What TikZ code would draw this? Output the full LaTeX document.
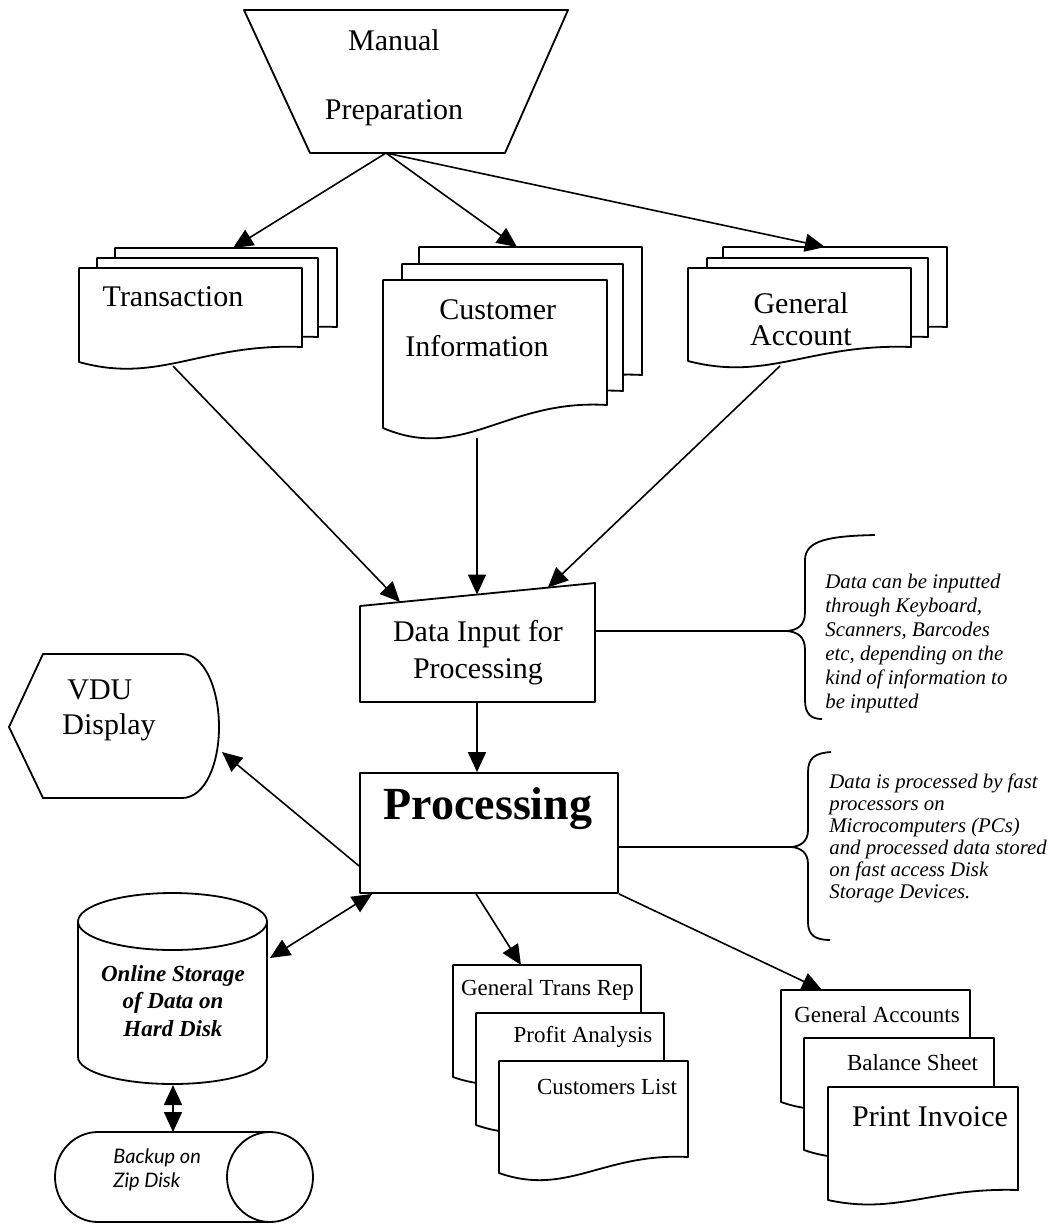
\documentclass[tikz,border=0pt]{standalone}
\usepackage{fontspec}
\setmainfont{Liberation Serif}
\newfontfamily\tapefont{Lato}
\usetikzlibrary{arrows.meta,calc}
\newcommand\docpage[5]{\draw[shp] (#1,#2) -- (#3,#2) -- (#3,{#4-#5}) .. controls ({#3-0.45*(#3-#1)},{#4-1.27*#5}) and ({#1+0.36*(#3-#1)},{#4+1.5*#5}) .. (#1,#4) -- cycle;}
\begin{document}
\begin{tikzpicture}[x=0.5pt,y=-0.5pt,
  shp/.style={draw,fill=white,line width=0.9pt,line join=round},
  ln/.style={line width=0.8pt},
  arr/.style={ln,-{Triangle[length=10pt,width=9pt]}},
  darr/.style={ln,{Triangle[length=10pt,width=9pt]}-{Triangle[length=10pt,width=9pt]}},
  txt/.style={inner sep=0pt,align=center,font=\fontsize{15}{18}\selectfont},
  small/.style={inner sep=0pt,align=center,font=\fontsize{11.5}{13}\selectfont},
  note/.style={inner sep=0pt,align=left,anchor=west}]
\useasboundingbox (0,0) rectangle (1052,1228);
\fill[white] (0,0) rectangle (1052,1228);

% Manual preparation
\draw[shp] (244,10) -- (568,10) -- (505,153) -- (310,153) -- cycle;
\node[txt,font=\fontsize{15}{34.5}\selectfont] (manual) at (394,78) {Manual\\Preparation};
\coordinate (manB) at (386,153);

% Transaction stack
\docpage{115}{248}{337}{342}{15}
\docpage{97}{258}{318}{352}{15}
\docpage{79}{268}{302}{362}{15}
\node[txt] (trans) at (173,297) {Transaction};
\coordinate (transT) at (233,248);
\coordinate (transB) at (173,366);

% Customer information stack
\docpage{419}{247}{642}{398}{23}
\docpage{402}{264}{623}{414}{23}
\docpage{383}{280}{607}{428}{23}
\node[txt,align=left,anchor=west,font=\fontsize{15}{18.5}\selectfont] (cust) at (405,328) {\hspace*{17pt}Customer\\Information};
\coordinate (custT) at (517,247);
\coordinate (custB) at (477,438);

% General account stack
\docpage{723}{247}{947}{342}{15}
\docpage{707}{258}{928}{352}{15}
\docpage{688}{268}{911}{361}{14}
\node[txt,font=\fontsize{15}{16}\selectfont] (genacc) at (801,319) {General\\Account};
\coordinate (genT) at (825,247);
\coordinate (genB) at (780,366);

% Data input
\draw[shp] (360,606) -- (595,583) -- (595,702) -- (360,702) -- cycle;
\node[txt,font=\fontsize{15}{18.5}\selectfont] (datain) at (478,653) {Data Input for\\Processing};
\coordinate (dinA) at (400,602);
\coordinate (dinB) at (477,594.5);
\coordinate (dinC) at (548,587.5);
\coordinate (dinR) at (595,631);
\coordinate (dinS) at (477,702);

% brace 1
\draw[shp,fill=none] (875,535) .. controls (830,536) and (805,540) .. (805,560) -- (805,612)
  .. controls (805,626) and (797,630) .. (787,631) coordinate (br1)
  .. controls (797,632) and (805,636) .. (805,650) -- (805,700)
  .. controls (805,714) and (811,719) .. (822,719);
\node[note,font=\fontsize{10.4}{12}\selectfont\itshape] (note1) at (825,643) {Data can be inputted\\through Keyboard,\\Scanners, Barcodes\\etc, depending on the\\kind of information to\\be inputted};

% VDU display
\draw[shp] (43,654) -- (182,654) .. controls (205,654) and (219,690) .. (219,727)
  .. controls (219,764) and (205,798) .. (182,798) -- (43,798) -- (9,727) -- cycle;
\node[txt,align=left,anchor=west,font=\fontsize{15}{17.5}\selectfont] (vdu) at (62,710) {\hspace*{2.5pt}VDU\\Display};
\coordinate (vduR) at (222,752);

% Processing
\node[shp,minimum width=129pt,minimum height=60pt,inner sep=0pt] (proc) at (489,833) {};
\node[inner sep=0pt,font=\fontsize{23}{26}\selectfont\bfseries] (proctxt) at (488,809) {Processing};

% brace 2
\draw[shp,fill=none] (831,752) .. controls (815,753) and (808,758) .. (808,772) -- (808,830)
  .. controls (808,842) and (800,846) .. (792,847) coordinate (br2)
  .. controls (800,848) and (808,852) .. (808,864) -- (808,922)
  .. controls (808,935) and (815,940) .. (830,940);
\node[note,font=\fontsize{10.4}{11}\selectfont\itshape] (note2) at (829,838) {Data is processed by fast\\processors on\\Microcomputers (PCs)\\and processed data stored\\on fast access Disk\\Storage Devices.};

% Cylinder (online storage)
\draw[shp] (78,921.5) -- (78,1057) .. controls (78,1071.9) and (120.3,1084) .. (172.5,1084)
  .. controls (224.7,1084) and (267,1071.9) .. (267,1057) -- (267,921.5) -- cycle;
\draw[shp] (172.5,921.5) ellipse [x radius=47.25pt, y radius=14.25pt];
\node[small,font=\fontsize{11.5}{13.75}\selectfont\bfseries\itshape] (disk) at (173,1001) {Online Storage\\of Data on\\Hard Disk};
\coordinate (diskR) at (270,958);
\coordinate (diskB) at (173,1085);

% Tape (backup)
\draw[shp] (270,1132) -- (98,1132) .. controls (74.3,1132) and (55,1152.1) .. (55,1177)
  .. controls (55,1201.9) and (74.3,1222) .. (98,1222) -- (270,1222) -- cycle;
\draw[shp] (270,1177) ellipse [x radius=21.5pt, y radius=22.5pt];
\node[note,font=\fontsize{10}{12}\selectfont\tapefont\itshape] (tape) at (113,1170) {Backup on\\Zip Disk};
\coordinate (tapeT) at (173,1132);

% Report stack 1
\docpage{453}{965}{641}{1077}{16}
\docpage{476}{1013}{664}{1125}{16}
\docpage{499}{1061}{688}{1173}{16}
\node[small] (rep1) at (547.5,990) {General Trans Rep};
\node[small] (rep2) at (583,1037) {Profit Analysis};
\node[small] (rep3) at (607,1087) {Customers List};
\coordinate (rep1T) at (521,965);

% Report stack 2
\docpage{781}{990}{970}{1102}{16}
\docpage{804}{1038}{994}{1150}{16}
\docpage{828}{1087}{1018}{1200}{10}
\node[small] (acc1) at (877,1015) {General Accounts};
\node[small] (acc2) at (912.5,1063) {Balance Sheet};
\node[txt] (acc3) at (930,1117) {Print Invoice};
\coordinate (acc1T) at (822,990);

% connectors
\draw[arr] (manB) -- (transT);
\draw[arr] (manB) -- (custT);
\draw[arr] (manB) -- (genT);
\draw[arr] (transB) -- (dinA);
\draw[arr] (custB) -- (dinB);
\draw[arr] (genB) -- (dinC);
\draw[ln] (dinR) -- (br1);
\draw[arr] (dinS) -- (dinS |- proc.north);
\draw[arr] ($(proc.west)+(0,33)$) -- (vduR);
\draw[ln] ($(proc.east)+(0,14)$) -- (br2);
\draw[darr] ($(proc.south west)+(13,0)$) -- (diskR);
\draw[arr] ($(proc.south west)+(117,0)$) -- (rep1T);
\draw[arr] (proc.south east) -- (acc1T);
\draw[darr] (diskB) -- (tapeT);
\end{tikzpicture}
\end{document}
